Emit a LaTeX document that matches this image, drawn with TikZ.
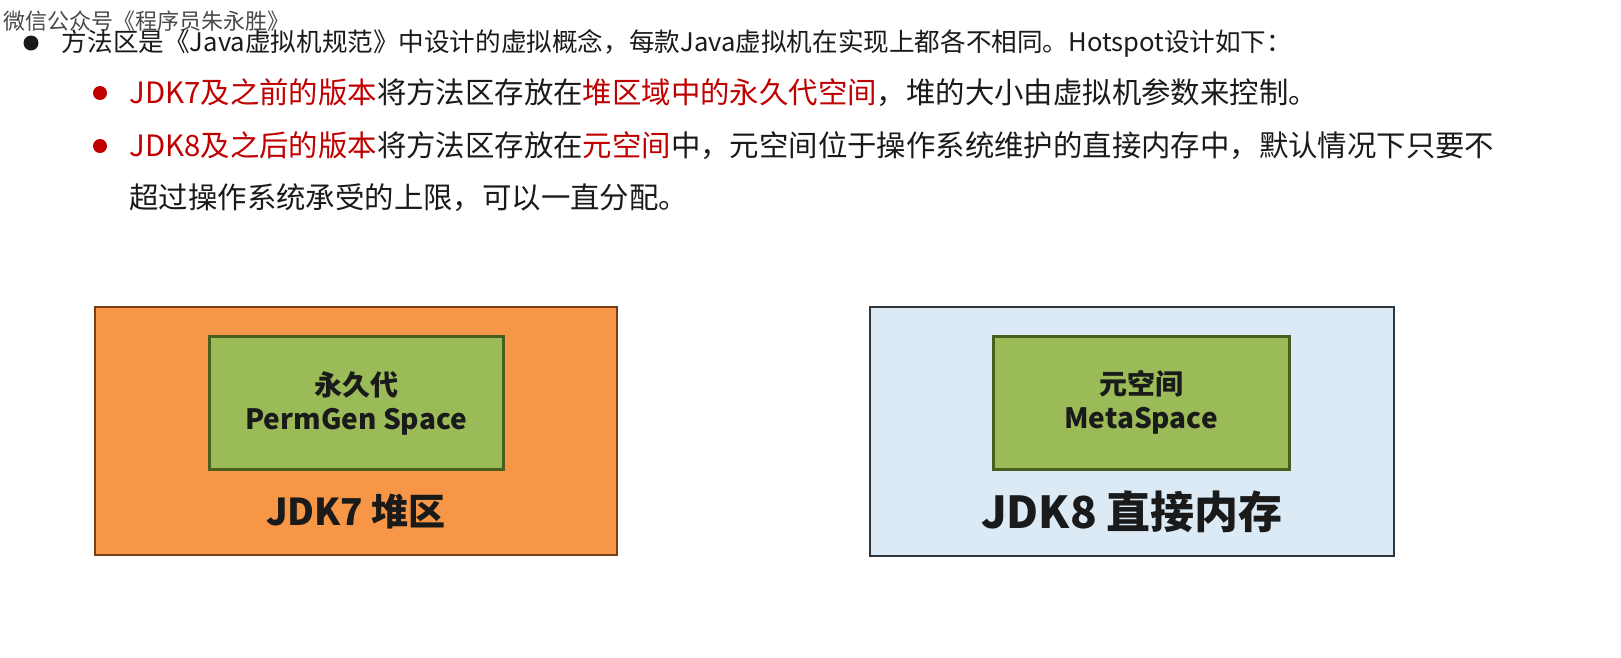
\documentclass[tikz,border=0pt]{standalone}
\usepackage{fontspec}
\setmainfont{Noto Sans CJK SC}
\usetikzlibrary{positioning}
\definecolor{ink}{HTML}{1A1A1A}
\definecolor{hot}{HTML}{C00000}
\definecolor{heap}{HTML}{F79646}
\definecolor{heapline}{HTML}{7A3E12}
\definecolor{green}{HTML}{9BBB59}
\definecolor{greenline}{HTML}{4A5E1E}
\definecolor{direct}{HTML}{DCEAF6}
\definecolor{directline}{HTML}{2E3740}
\definecolor{wmcol}{HTML}{4A4A4A}

\begin{document}
\begin{tikzpicture}[x=1pt,y=-1pt,node distance=22pt]
  \tikzstyle{txtline}=[anchor=west,inner sep=0pt,text=ink,font=\fontsize{29.4}{34}\selectfont]
  \tikzstyle{bul}=[circle,inner sep=0pt,minimum size=15pt]
  \tikzstyle{membox}=[rectangle,line width=2.5pt,minimum width=522pt,minimum height=248pt]
  \tikzstyle{subbox}=[rectangle,draw=greenline,fill=green,line width=3pt,minimum width=294pt,minimum height=133pt,align=center,text=ink,font=\fontsize{28}{34}\selectfont\bfseries]
  \useasboundingbox[fill=white] (0,0) rectangle (1621,657);
  % watermark
  \node[anchor=west,inner sep=0pt,text=wmcol,font=\fontsize{22}{24}\selectfont] (wm) at (3,21) {微信公众号《程序员朱永胜》};
  % bullet text
  \node[bul,fill=ink] (b1) at (31,43) {};
  \node[txtline,right=23pt of b1,font=\fontsize{25.6}{30}\selectfont] (l1) {方法区是《Java虚拟机规范》中设计的虚拟概念，每款Java虚拟机在实现上都各不相同。Hotspot设计如下：};
  \node[bul,fill=hot,minimum size=14pt] (b2) at (100,93) {};
  \node[txtline,right=22pt of b2] (l2) {\textcolor{hot}{JDK7及之前的版本}将方法区存放在\textcolor{hot}{堆区域中的永久代空间}，堆的大小由虚拟机参数来控制。};
  \node[bul,fill=hot,minimum size=14pt] (b3) at (100,146) {};
  \node[txtline,right=22pt of b3] (l3) {\textcolor{hot}{JDK8及之后的版本}将方法区存放在\textcolor{hot}{元空间}中，元空间位于操作系统维护的直接内存中，默认情况下只要不};
  \node[txtline] (l4) at ([yshift=-52pt]l3.west) {超过操作系统承受的上限，可以一直分配。};
  % JDK7
  \node[membox,draw=heapline,fill=heap] (heap7) at (356,431) {};
  \node[subbox] (perm) at (356,403) {永久代\\PermGen Space};
  \node[inner sep=0pt,text=ink,font=\fontsize{37}{40}\selectfont\bfseries] (lab7) at ([yshift=-41pt]perm.south) {JDK7 堆区};
  % JDK8
  \node[membox,draw=directline,fill=direct,minimum width=524pt,minimum height=249pt] (mem8) at (1132,431.5) {};
  \node[subbox,minimum width=296pt] (meta) at (1141,402.5) {元空间\\MetaSpace};
  \node[inner sep=0pt,text=ink,font=\fontsize{44}{48}\selectfont\bfseries] (lab8) at ([yshift=-41pt]meta.south -| mem8) {JDK8 直接内存};
\end{tikzpicture}
\end{document}
